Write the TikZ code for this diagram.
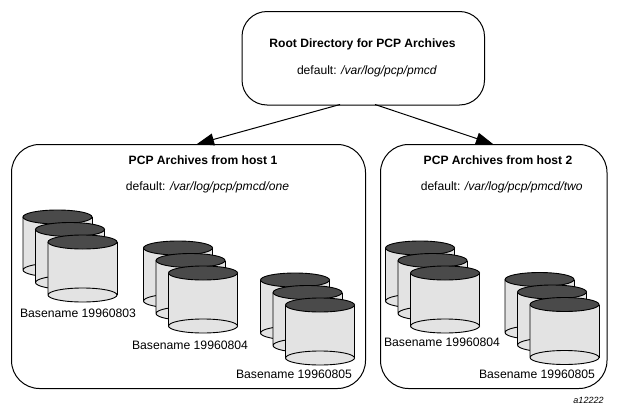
\documentclass[tikz,border=0pt]{standalone}
\usepackage{fontspec}
\setmainfont{Liberation Sans}
\usetikzlibrary{arrows.meta}
\definecolor{cylbody}{gray}{0.89}
\definecolor{cyltop}{gray}{0.29}
\tikzset{
  x=1pt,y=-1pt,
  boxnode/.style={draw=black,line width=1pt,rounded corners=25pt,minimum width=#1,inner sep=0pt,anchor=north west},
  hostbox/.style={boxnode=#1,rounded corners=28pt},
  title/.style={font=\fontsize{12.1}{14}\selectfont\bfseries,inner sep=0pt},
  deflt/.style={font=\fontsize{12.1}{14}\selectfont,inner sep=0pt},
  base/.style={font=\fontsize{12.2}{14}\selectfont,inner sep=0pt},
  link/.style={line width=1pt,-{Triangle[length=17pt,width=12pt]},shorten <=0pt},
}
\newcommand{\onecyl}[2]{%
  \fill[cylbody] (#1-34.5,#2) -- (#1-34.5,#2+53) arc[start angle=180,end angle=360,x radius=34.5,y radius=-7] -- (#1+34.5,#2) -- cycle;
  \draw[line width=0.9pt] (#1-34.5,#2) -- (#1-34.5,#2+53) arc[start angle=180,end angle=0,x radius=34.5,y radius=7] arc[start angle=0,end angle=-180,x radius=34.5,y radius=7];
  \draw[line width=0.9pt] (#1+34.5,#2+53) -- (#1+34.5,#2);
  \draw[line width=0.9pt,fill=cyltop] (#1,#2) ellipse[x radius=34.5,y radius=7];
}
\newcommand{\cylset}[2]{%
  \onecyl{#1}{#2}
  \onecyl{#1+12.5}{#2+12.5}
  \onecyl{#1+25}{#2+25}
}
\begin{document}
\begin{tikzpicture}
\useasboundingbox (0,0) rectangle (618,415);
\node[boxnode=242.5pt,minimum height=93.5pt] (root) at (241.5,11) {};
\node[hostbox=354pt,minimum height=244pt] (host1) at (11,144) {};
\node[hostbox=226.5pt,minimum height=244pt] (host2) at (380,144) {};
\node[title] (roott) at (362.5,44) {Root Directory for PCP Archives};
\node[deflt] (rootd) at (367,71) {default: \textit{/var/log/pcp/pmcd}};
\node[title] (h1t) at (203,160) {PCP Archives from host 1};
\node[deflt] (h1d) at (207.5,187) {default: \textit{/var/log/pcp/pmcd/one}};
\node[title] (h2t) at (498,160) {PCP Archives from host 2};
\node[deflt] (h2d) at (501.7,187) {default: \textit{/var/log/pcp/pmcd/two}};
\cylset{57.5}{217}
\cylset{178}{248}
\cylset{295}{280}
\cylset{420}{248}
\cylset{539.5}{279.5}
\node[base] (b1) at (78,313) {Basename 19960803};
\node[base] (b2) at (190,345) {Basename 19960804};
\node[base] (b3) at (294,374) {Basename 19960805};
\node[base] (b4) at (442,342) {Basename 19960804};
\node[base] (b5) at (537,374) {Basename 19960805};
\node[font=\fontsize{9}{10}\selectfont\itshape,inner sep=0pt] (tag) at (588.5,400) {a12222};
\coordinate (rl) at (340,104.5);
\coordinate (rr) at (375,104.5);
\coordinate (h1in) at (197,144);
\coordinate (h2in) at (493,144);
\draw[link] (rl) -- (h1in);
\draw[link] (rr) -- (h2in);
\end{tikzpicture}
\end{document}
